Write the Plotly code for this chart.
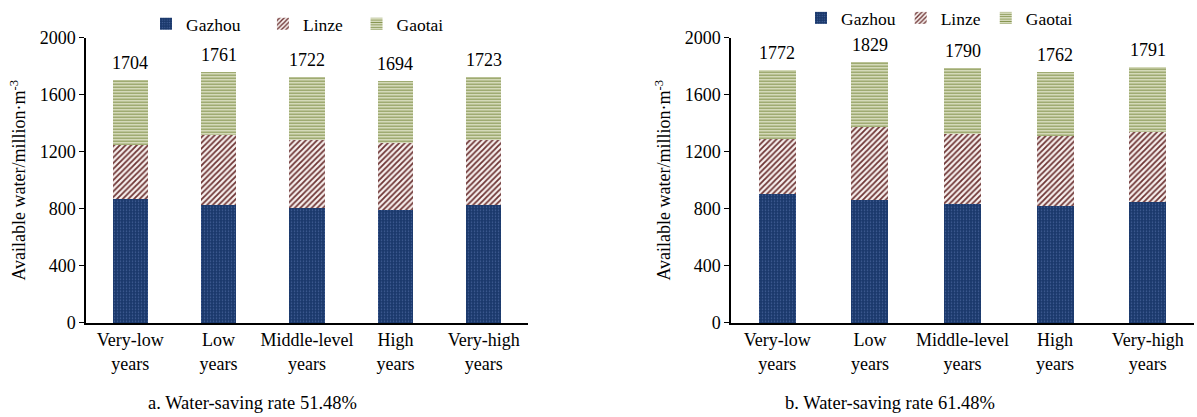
import plotly.graph_objects as go

categories = ["Very-low<br>years", "Low<br>years", "Middle-level<br>years", "High<br>years", "Very-high<br>years"]

# Panel a: water-saving rate 51.48%
gazhou_a = [870, 829, 806, 790, 824]
linze_a = [375, 486, 476, 470, 460]
gaotai_a = [459, 446, 440, 434, 439]
totals_a = [1704, 1761, 1722, 1694, 1723]

# Panel b: water-saving rate 61.48%
gazhou_b = [905, 859, 835, 819, 847]
linze_b = [387, 514, 493, 491, 493]
gaotai_b = [480, 456, 462, 452, 451]
totals_b = [1772, 1829, 1790, 1762, 1791]

series_names = ["Gazhou", "Linze", "Gaotai"]
y_ticks = [0, 400, 800, 1200, 1600, 2000]
titles = ["a. Water-saving rate 51.48%", "b. Water-saving rate 61.48%"]

FONT = "Liberation Serif"
NB = "\u00a0"

styles = {
    "Gazhou": dict(color="#1b396c", pattern=dict(shape=".", fgcolor="#46639a", bgcolor="#1b396c",
                                                  size=3, solidity=0.2, fillmode="replace")),
    "Linze": dict(color="#f7f0ee", pattern=dict(shape="/", fgcolor="#6e3535", bgcolor="#f7f0ee",
                                                 size=4, solidity=0.45, fillmode="replace")),
    "Gaotai": dict(color="#eef0dc", pattern=dict(shape="-", fgcolor="#85944f", bgcolor="#eef0dc",
                                                  size=3, solidity=0.5, fillmode="replace")),
}

# extra legend spacing (non-breaking spaces) for the left panel only
left_pad = {"Gazhou": NB * 4, "Linze": NB * 2, "Gaotai": ""}

fig = go.Figure()
annotations = []

panels = [
    ("x", "y", "legend", [gazhou_a, linze_a, gaotai_a], totals_a, True),
    ("x2", "y2", "legend2", [gazhou_b, linze_b, gaotai_b], totals_b, False),
]

for xa, ya, lg, series, totals, is_left in panels:
    for name, vals in zip(series_names, series):
        st = styles[name]
        fig.add_trace(go.Bar(
            x=categories, y=vals, name=name + (left_pad[name] if is_left else ""),
            xaxis=xa, yaxis=ya, legend=lg,
            marker=dict(color=st["color"], pattern=st["pattern"], line=dict(width=0)),
            showlegend=True,
        ))
    for cat, tot in zip(categories, totals):
        annotations.append(dict(
            x=cat, y=tot, xref=xa, yref=ya, text=str(tot), showarrow=False,
            xanchor="center", yanchor="bottom", yshift=5,
            font=dict(family=FONT, size=18, color="black"),
        ))

W, H = 1197, 417
yd = [(H - 322) / H, (H - 34) / H]

axis_common = dict(showline=True, linecolor="black", linewidth=1.5, showgrid=False, zeroline=False,
                   automargin=False, tickfont=dict(family=FONT, size=18, color="black"))

ytitle = dict(text="Available water/million·m<sup>-3</sup>", font=dict(family=FONT, size=18),
              standoff=9)

for t, cx in zip(titles, [252, 890]):
    annotations.append(dict(text=t, x=cx / W, y=1 - 403 / H, xref="paper", yref="paper",
                            showarrow=False, font=dict(family=FONT, size=18.5),
                            xanchor="center", yanchor="middle"))

legend_font = dict(family=FONT, size=17.5, color="black")

fig.update_layout(
    width=W, height=H, margin=dict(l=0, r=0, t=0, b=0),
    paper_bgcolor="white", plot_bgcolor="white",
    barmode="stack", bargap=0.6,
    font=dict(family=FONT, size=17, color="black"),
    xaxis=dict(domain=[86 / W, 528 / W], ticks="", anchor="y", **axis_common),
    xaxis2=dict(domain=[731 / W, 1194 / W], ticks="", anchor="y2", **axis_common),
    yaxis=dict(domain=yd, range=[0, 2000], tickvals=y_ticks, ticks="outside", ticklen=5,
               tickcolor="black", anchor="x", title=ytitle, **axis_common),
    yaxis2=dict(domain=yd, range=[0, 2000], tickvals=y_ticks, ticks="outside", ticklen=5,
                tickcolor="black", anchor="x2", title=ytitle, **axis_common),
    legend=dict(orientation="h", x=146 / W, xanchor="left", y=1 - 20 / H, yanchor="middle",
                traceorder="normal", font=legend_font, bgcolor="rgba(0,0,0,0)"),
    legend2=dict(orientation="h", x=801 / W, xanchor="left", y=1 - 14 / H, yanchor="middle",
                 traceorder="normal", font=legend_font, bgcolor="rgba(0,0,0,0)"),
    annotations=annotations,
)

fig.write_html("out.html", config={"displayModeBar": False},
               post_script="document.body.style.margin='0';document.body.style.overflow='hidden';")
